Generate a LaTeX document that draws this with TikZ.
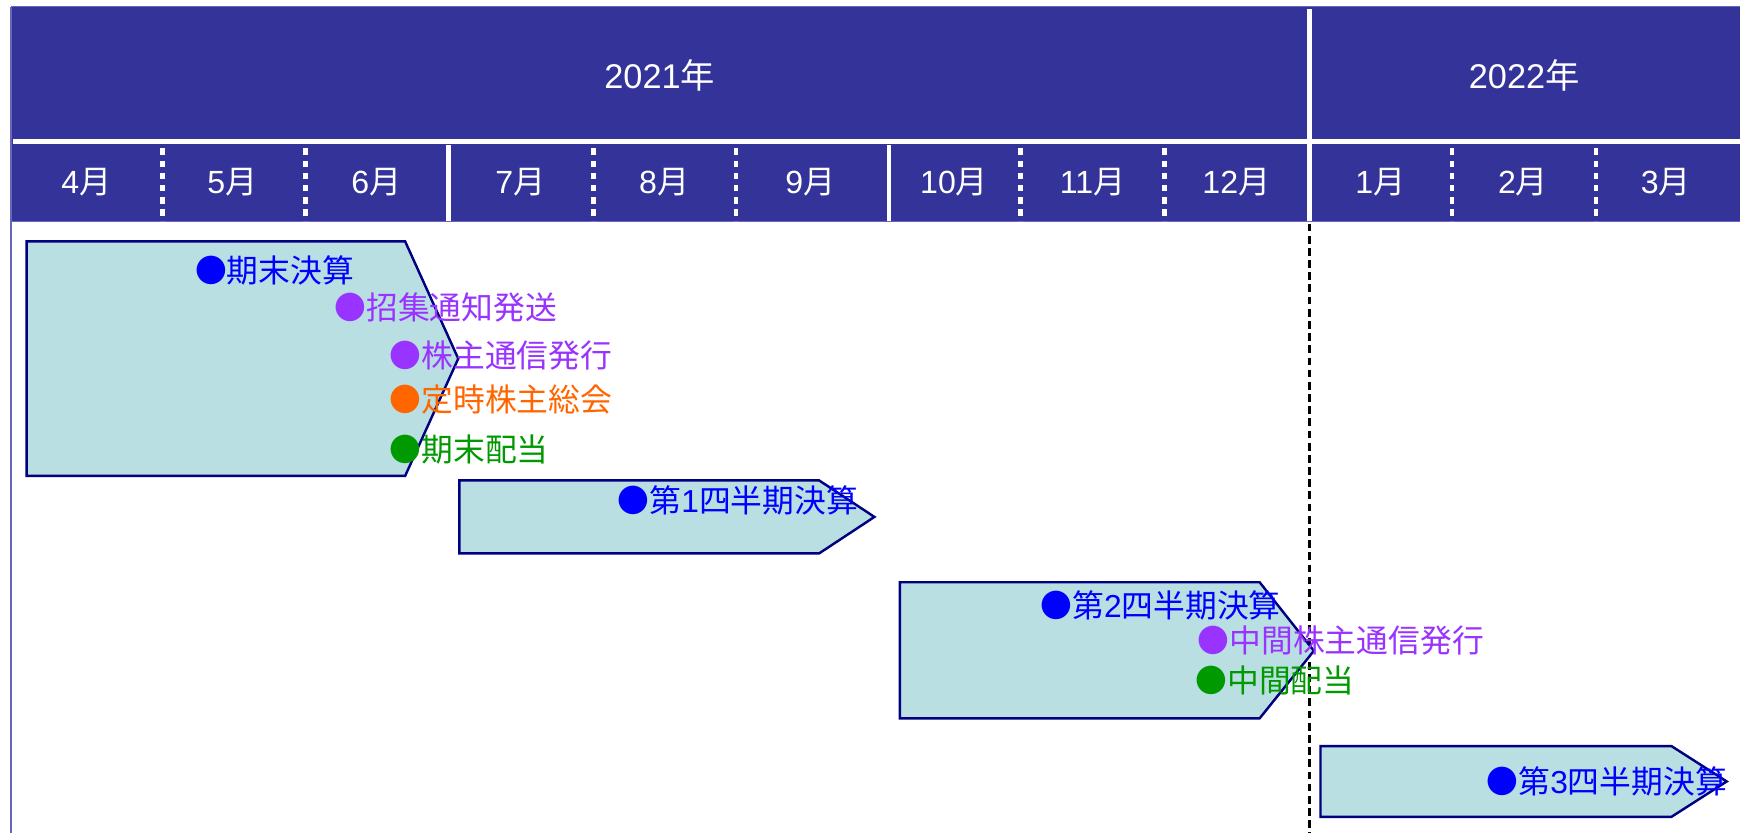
\documentclass[tikz,border=0pt]{standalone}
\usepackage{fontspec}
\setmainfont{Liberation Sans}
\newfontfamily\jp{Noto Sans CJK JP}
\newcommand\latd[1]{{\rmfamily #1}}
\definecolor{hdr}{HTML}{333399}
\definecolor{frm}{HTML}{6666BB}
\definecolor{boxfill}{HTML}{B9DFE2}
\definecolor{boxline}{HTML}{000080}
\definecolor{evblue}{HTML}{0000FF}
\definecolor{evpurple}{HTML}{9933FF}
\definecolor{evorange}{HTML}{FF6600}
\definecolor{evgreen}{HTML}{009900}
\begin{document}
\begin{tikzpicture}[x=1pt,y=-1pt,
  yearlbl/.style={text=white,font=\fontsize{31}{31}\selectfont,inner sep=0},
  monthlbl/.style={text=white,font=\fontsize{29}{29}\selectfont,inner sep=0},
  phase/.style={draw=boxline,fill=boxfill,line width=2.2pt,line join=miter},
  event/.style={anchor=west,inner sep=0,font=\fontsize{28.7}{28.7}\selectfont\jp},
  solidsep/.style={draw=white,line width=4pt},
  dotsep/.style={draw=white,line width=4pt,dash pattern=on 6pt off 5pt},
  edge/.style={draw=frm,line width=1.5pt},
  todayline/.style={draw=black,line width=2pt,dash pattern=on 7pt off 4pt}]
\useasboundingbox (0,0) rectangle (1572,753);
\fill[white] (0,0) rectangle (1572,753);
% header band
\fill[hdr] (10,6) rectangle (1572,200);
\path[edge] (10,6) -- (1572,6);
\path[edge] (10,6) -- (10,753);
\path[edge] (10,200) -- (1572,200);
\path[solidsep] (12,128) -- (1572,128);
\path[solidsep] (1183,8) -- (1183,200);
\foreach \x in {405,803}{\path[solidsep] (\x,131) -- (\x,200);}
\foreach \x in {147,276,536,665,922,1052,1312,1442}{\path[dotsep] (\x,134) -- (\x,200);}
% year labels
\node[yearlbl] (y2021) at (596,68) {2021{\jp 年}};
\node[yearlbl] (y2022) at (1377,68) {2022{\jp 年}};
% month labels
\foreach \c/\m/\n in {78/4/m4,210/5/m5,340/6/m6,470/7/m7,600/8/m8,732/9/m9,862/10/m10,987/11/m11,1117/12/m12,1247/1/m1,1376/2/m2,1505/3/m3}{
  \node[monthlbl] (\n) at (\c,165) {\m{\jp 月}};
}
% today line
\path[todayline] (1183,202) -- (1183,753);
% phases
\path[phase] (24,218) -- (366,218) -- (414,324) -- (366,430) -- (24,430) -- cycle;
\path[phase] (415,434) -- (740,434) -- (790,467) -- (740,500) -- (415,500) -- cycle;
\path[phase] (813,526) -- (1138,526) -- (1187,588) -- (1138,649) -- (813,649) -- cycle;
\path[phase] (1193,674) -- (1510,674) -- (1560,706) -- (1510,738) -- (1193,738) -- cycle;
% events
\node[event,text=evblue] (e1) at (176,244) {●期末決算};
\node[event,text=evpurple] (e2) at (302,278) {●招集通知発送};
\node[event,text=evpurple] (e3) at (352,321) {●株主通信発行};
\node[event,text=evorange] (e4) at (352,361) {●定時株主総会};
\node[event,text=evgreen] (e5) at (352,406) {●期末配当};
\node[event,text=evblue] (e6) at (558,452) {●第\latd{1}四半期決算};
\node[event,text=evblue] (e7) at (940,547) {●第\latd{2}四半期決算};
\node[event,text=evpurple] (e8) at (1082,579) {●中間株主通信発行};
\node[event,text=evgreen] (e9) at (1080,615) {●中間配当};
\node[event,text=evblue] (e10) at (1343,706) {●第\latd{3}四半期決算};
\end{tikzpicture}
\end{document}
